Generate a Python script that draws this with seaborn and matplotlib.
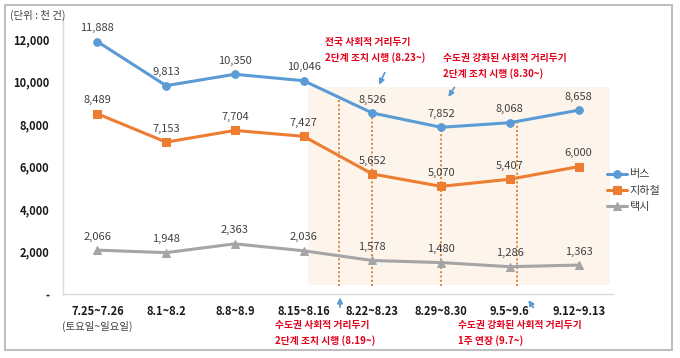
import numpy as np
import pandas as pd
import seaborn as sns
import matplotlib.pyplot as plt
from matplotlib.patches import Rectangle

# data (unit: thousand trips)
periods = ["7.25~7.26", "8.1~8.2", "8.8~8.9", "8.15~8.16",
           "8.22~8.23", "8.29~8.30", "9.5~9.6", "9.12~9.13"]
bus = [11888, 9813, 10350, 10046, 8526, 7852, 8068, 8658]
subway = [8489, 7153, 7704, 7427, 5652, 5070, 5407, 6000]
taxi = [2066, 1948, 2363, 2036, 1578, 1480, 1286, 1363]
modes = ["버스", "지하철", "택시"]
y_ticks = [0, 2000, 4000, 6000, 8000, 10000, 12000]

rows = []
for name, vals in zip(modes, [bus, subway, taxi]):
    for i, v in enumerate(vals):
        rows.append({"idx": i, "period": periods[i], "mode": name, "value": v})
df = pd.DataFrame(rows)

sns.set_theme(style="white")
plt.rcParams["font.family"] = ["Noto Sans CJK KR", "DejaVu Sans"]

W, H = 680, 358
fig = plt.figure(figsize=(6.8, 3.58), dpi=100)
ax = fig.add_axes([63 / W, 1 - 294 / H, 550 / W, 276 / H])

def px(x, y):
    # pixel (from top-left) -> figure fraction
    return (x / W, 1 - y / H)

palette = {"버스": "#5B9BD5", "지하철": "#ED7D31", "택시": "#A5A5A5"}
markers = {"버스": "o", "지하철": "s", "택시": "^"}

# shaded period
ax.add_patch(Rectangle((3.06, 420), 4.4, 9320, facecolor="#FDF5EC",
                       edgecolor="none", zorder=0))

# dotted reference lines from bus line down
for xv in [3.52, 4.0, 5.0, 6.1]:
    top = np.interp(xv, range(len(bus)), bus)
    ax.plot([xv, xv], [380, top], linestyle=(0, (1, 1.2)), color="#D9843B",
            lw=1.4, zorder=1)

sns.lineplot(data=df, x="idx", y="value", hue="mode", style="mode",
             markers=markers, dashes=False, palette=palette, linewidth=2.2,
             markersize=5.5, markeredgecolor=None, ax=ax, zorder=3)

for name, vals in zip(modes, [bus, subway, taxi]):
    for i, v in enumerate(vals):
        ax.annotate(f"{v:,}", (i, v), xytext=(0, 6), textcoords="offset points",
                    ha="center", va="bottom", fontsize=8, color="#404040")

ax.set_xlim(-0.5, 7.5)
ax.set_ylim(0, 13000)
ax.set_xticks(range(len(periods)))
ax.set_xticklabels(periods, fontsize=8, fontweight="bold", color="#1a1a1a")
ax.set_yticks(y_ticks)
ax.set_yticklabels(["-" if t == 0 else f"{t:,}" for t in y_ticks],
                   fontsize=8, fontweight="bold", color="#1a1a1a")
ax.tick_params(axis="both", length=0, pad=8)
ax.tick_params(axis="y", pad=10)
ax.set_xlabel("")
ax.set_ylabel("")
for side in ["top", "right"]:
    ax.spines[side].set_visible(False)
for side in ["left", "bottom"]:
    ax.spines[side].set_color("#D9D9D9")
    ax.spines[side].set_linewidth(1)

handles, labels = ax.get_legend_handles_labels()
ax.legend(handles, labels, loc="upper left", bbox_to_anchor=px(603, 165),
          bbox_transform=fig.transFigure, frameon=False, fontsize=8,
          handlelength=1.8, handletextpad=0.15, labelspacing=0.55,
          borderaxespad=0, labelcolor="#404040")

fig.text(*px(10, 15), "(단위 : 천 건)", fontsize=7.5, color="#404040",
         va="center", ha="left")
fig.text(*px(97, 326), "(토요일~일요일)", fontsize=7.5, color="#404040",
         va="center", ha="center")

red = "#E3001B"
notes = [
    ((325, 50), "전국 사회적 거리두기\n2단계 조치 시행 (8.23~)"),
    ((443, 66), "수도권 강화된 사회적 거리두기\n2단계 조치 시행 (8.30~)"),
    ((275, 333), "수도권 사회적 거리두기\n2단계 조치 시행 (8.19~)"),
    ((458, 333), "수도권 강화된 사회적 거리두기\n1주 연장 (9.7~)"),
]
for (x, y), t in notes:
    fig.text(*px(x, y), t, fontsize=7, color=red, fontweight="bold",
             ha="left", va="center", linespacing=1.6)

arrows = [((386, 70), (378, 87)), ((456, 85), (447, 99)),
          ((340, 310), (340, 295)), ((535, 310), (527, 298))]
for start, end in arrows:
    fig.add_artist(plt.annotate("", xy=px(*end), xytext=px(*start),
                                xycoords="figure fraction",
                                arrowprops=dict(arrowstyle="-|>", color="#5B9BD5",
                                                lw=1, mutation_scale=8)))

fig.add_artist(Rectangle((5 / W, 1 - 350 / H), 667 / W, 345 / H,
                         transform=fig.transFigure, fill=False,
                         edgecolor="#BFBFBF", lw=1.5))

plt.savefig("out.png", dpi=100)
